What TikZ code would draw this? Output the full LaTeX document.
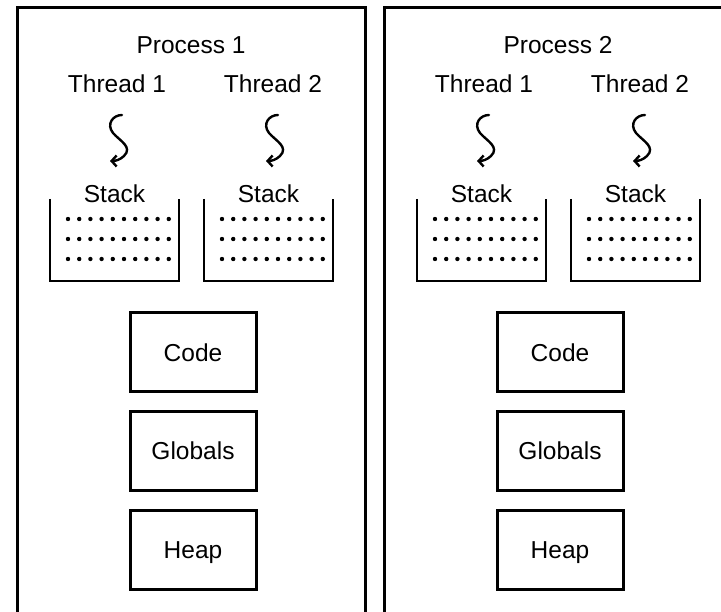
\documentclass[tikz,border=0pt]{standalone}
\usepackage{fontspec}
\setmainfont{Liberation Sans}
\usetikzlibrary{arrows.meta}
\begin{document}
\begin{tikzpicture}[x=1pt,y=-1pt,
  lbl/.style={font=\fontsize{24.5}{29}\selectfont, inner sep=0pt, anchor=base},
  frame/.style={line width=3pt},
  bin/.style={line width=2.6pt},
  segbox/.style={draw, line width=3pt, minimum width=126pt, minimum height=79pt,
    inner sep=0pt, text height=17.5pt, text depth=0pt,
    font=\fontsize{24.5}{29}\selectfont},
  squiggle/.style={line width=2.4pt, line cap=round,
    -{Straight Barb[length=5pt,width=11pt,line width=2.4pt]}},
  bead/.style={circle, fill, inner sep=0pt, minimum size=4.4pt}
]
\useasboundingbox (0,0) rectangle (721,612);

% two processes, side by side
\foreach \p/\dx in {1/0, 2/367}{
  \begin{scope}[xshift=\dx pt]
    % process frame, open at the bottom
    \coordinate (f\p a) at (17,612);
    \coordinate (f\p b) at (17,8);
    \coordinate (f\p c) at (365,8);
    \coordinate (f\p d) at (365,612);
    \ifnum\p=1
      \draw[frame] (f\p a) -- (f\p b) -- (f\p c) -- (f\p d);
    \else
      \coordinate (f\p c) at (372,8);
      \draw[frame] (f\p a) -- (f\p b) -- (f\p c);
    \fi

    \node[lbl] (proc\p) at (191,54) {Process \p};

    % threads, each with its own stack
    \foreach \t/\cx/\sl in {1/117/50, 2/273/204}{
      \node[lbl] (thr\p\t) at (\cx,93) {Thread \t};
      \coordinate (sqa\p\t) at (\cx+5,115);
      \coordinate (sqb\p\t) at (\cx-7,161);
      \draw[squiggle] (sqa\p\t) .. controls (\cx-4,115) and (\cx-11,124) .. (\cx-4,133)
        .. controls (\cx+3,141) and (\cx+16,147) .. (\cx+7,156)
        .. controls (\cx+3,160) and (\cx-2,161) .. (sqb\p\t);
      \node[lbl] (stk\p\t) at (\sl+64.5,203) {Stack};
      \coordinate (sa\p\t) at (\sl,199);
      \coordinate (sb\p\t) at (\sl,281);
      \coordinate (sc\p\t) at (\sl+129,281);
      \coordinate (sd\p\t) at (\sl+129,199);
      \draw[bin] (sa\p\t) -- (sb\p\t) -- (sc\p\t) -- (sd\p\t);
      \foreach \r in {219,239,259}{
        \foreach \k in {0,...,9}{
          \node[bead] (b\p\t\r\k) at (\sl+18+11.2*\k,\r) {};
        }
      }
    }

    % shared segments
    \node[segbox] (code\p) at (193,352.5) {Code};
    \node[segbox] (glob\p) at (193,451) {Globals};
    \node[segbox] (heap\p) at (193,550) {Heap};
  \end{scope}
}
\end{tikzpicture}
\end{document}
